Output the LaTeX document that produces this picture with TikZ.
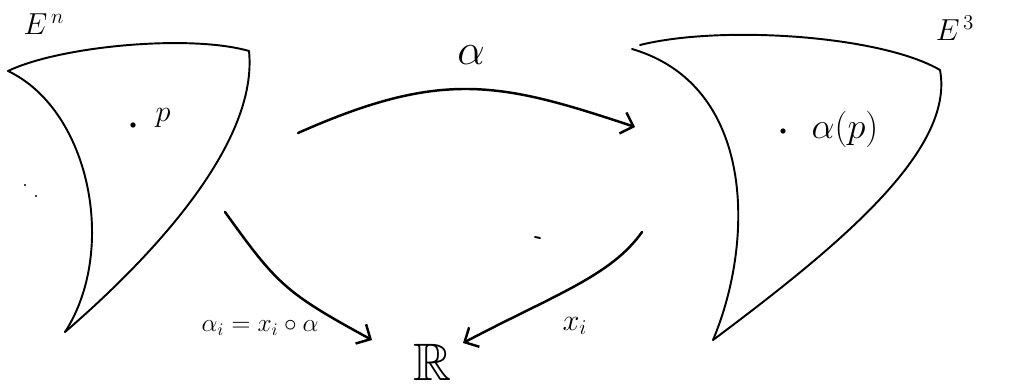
\documentclass[tikz,border=0pt]{standalone}
\usepackage{amssymb}
\usetikzlibrary{arrows.meta}

\begin{document}
\begin{tikzpicture}[x=0.02cm, y=-0.02cm, every node/.style={font=\Large, inner sep=1pt},
  borde/.style={line width=1.1pt, line join=round, line cap=round},
  flecha/.style={line width=1.4pt, line cap=round, -{Straight Barb[length=2.2mm, width=4.4mm, line width=1.4pt]}},
  punto/.style={circle, fill, inner sep=0pt, minimum size=3pt}]
\useasboundingbox (0,0) rectangle (1030,386);
% superficie E^n
\draw[borde] (8,71) .. controls (60,46) and (190,34) .. (249,51);
\draw[borde] (249,51) .. controls (258,140) and (160,250) .. (65,332);
\draw[borde] (8,71) .. controls (90,110) and (118,250) .. (65,332);
\node[font=\LARGE] (En) at (44,24) {$E^{\,n}$};
\node[punto] (p) at (133,125) {};
\node[font=\LARGE] (plab) at (163,118) {$p$};
\fill (25,185) circle (1.2) (36,196) circle (1.2);
% superficie E^3
\draw[borde] (640,45) .. controls (720,25) and (880,35) .. (940,70);
\draw[borde] (940,70) .. controls (955,150) and (840,245) .. (713,340);
\draw[borde] (632,49) .. controls (755,85) and (755,240) .. (713,340);
\node[font=\LARGE] (E3) at (955,28) {$E^{\,3}$};
\node[punto] (ap) at (783,131) {};
\node[font=\huge] (aplab) at (845,129) {$\alpha(p)$};
\draw[line width=1.1pt, line cap=round] (535,237) -- (540,238);
% R
\node[font=\fontsize{30}{32}\selectfont] (R) at (433,362) {$\mathbb{R}$};
% flechas
\coordinate (alfa-ini) at (298,133);
\coordinate (alfa-fin) at (635,127);
\coordinate (alfai-ini) at (225,212);
\coordinate (alfai-fin) at (372,340);
\coordinate (xi-ini) at (642,232);
\coordinate (xi-fin) at (463,343);
\draw[flecha] (alfa-ini) .. controls (442,69) and (500,82) .. (alfa-fin);
\draw[flecha] (alfai-ini) .. controls (277,284) and (284,292) .. (alfai-fin);
\draw[flecha] (xi-ini) .. controls (611,276) and (554,295) .. (xi-fin);
\node[font=\Huge] (alfa) at (471,55) {$\alpha$};
\node (alfai) at (260,328) {$\alpha_i = x_i \circ \alpha$};
\node[font=\LARGE] (xi) at (575,326) {$x_i$};
\end{tikzpicture}
\end{document}
